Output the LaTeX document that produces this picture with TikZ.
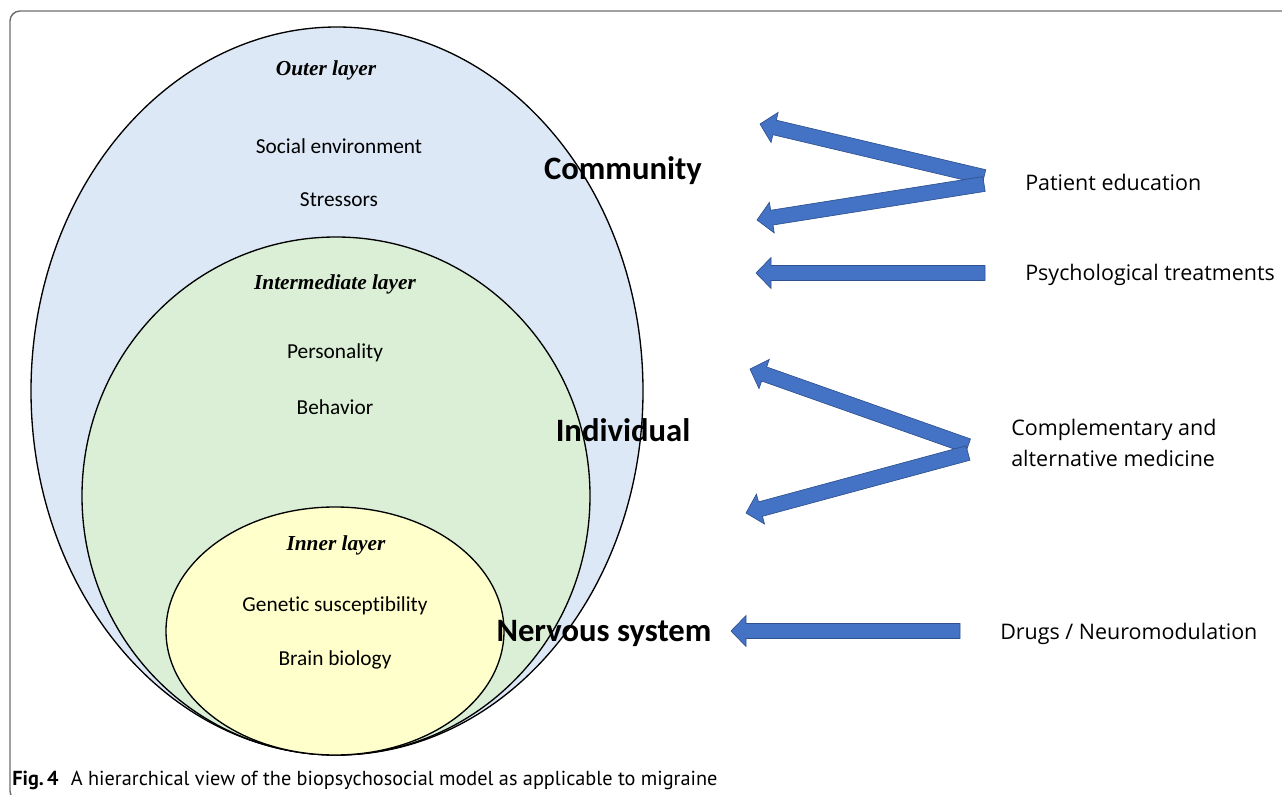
\documentclass[tikz,border=0pt]{standalone}
\usepackage{fontspec}
\setmainfont{Carlito}[Ligatures=NoCommon]
\newfontfamily\timesf{Liberation Serif}
\newfontfamily\osans{Open Sans}
\newfontfamily\capfont{PT Sans}
\usetikzlibrary{calc}
\definecolor{outerfill}{RGB}{220,232,245}
\definecolor{midfill}{RGB}{218,239,214}
\definecolor{innerfill}{RGB}{255,255,204}
\definecolor{arrowfill}{RGB}{68,114,196}
\definecolor{arrowline}{RGB}{47,82,143}
\definecolor{framegray}{RGB}{110,110,110}
\newcommand\blockarrow[2]{%
  \coordinate (hb#2) at ($(#2)!11.25pt!(#1)$);
  \filldraw[blockarr]
    ($(#1)!5.6pt!90:(#2)$) -- ($(hb#2)!5.6pt!90:(#2)$) -- ($(hb#2)!11.6pt!90:(#2)$)
    -- (#2) -- ($(hb#2)!11.6pt!-90:(#2)$) -- ($(hb#2)!5.6pt!-90:(#2)$)
    -- ($(#1)!5.6pt!-90:(#2)$) -- cycle;}
\tikzset{
  layer/.style={draw=black, line width=1pt},
  layertitle/.style={font=\timesf\fontsize{16}{19}\selectfont\bfseries\itshape, inner sep=0pt},
  layertext/.style={font=\fontsize{16}{19}\selectfont, inner sep=0pt},
  level/.style={font=\fontsize{24.5}{29}\selectfont\bfseries, inner sep=0pt},
  action/.style={font=\osans\fontsize{16.1}{23.2}\selectfont, anchor=west, inner sep=0pt, align=left},
  blockarr/.style={fill=arrowfill, draw=arrowline, line width=0.5pt, line join=miter},
}
\begin{document}
\begin{tikzpicture}[x=0.75pt, y=-0.75pt]
\useasboundingbox (0,0) rectangle (1282,795);
% frame
\draw[framegray, line width=1.1pt, rounded corners=7.5pt] (10,11) rectangle (1310,801);
% layers
\path[layer, fill=outerfill] (337,391) ellipse [x radius=306, y radius=364];
\path[layer, fill=midfill] (336,496) ellipse [x radius=254, y radius=259];
\path[layer, fill=innerfill] (335,631) ellipse [x radius=169, y radius=124];
% texts inside
\node[layertitle] (outer) at (326,70) {Outer layer};
\node[layertext] (social) at (339,146) {Social environment};
\node[layertext] (stress) at (339,200) {Stressors};
\node[layertitle] (mid) at (335,284) {Intermediate layer};
\node[layertext] (pers) at (335,353) {Personality};
\node[layertext] (behav) at (335,407) {Behavior};
\node[layertitle] (inner) at (336,545) {Inner layer};
\node[layertext] (genet) at (335,606) {Genetic susceptibility};
\node[layertext] (brain) at (335,660) {Brain biology};
% levels
\node[level] (comm) at (623,171) {Community};
\node[level] (indiv) at (623,430) {Individual};
\node[level] (nerv) at (604,633) {Nervous system};
% actions
\node[action] (pated) at (1025,182) {Patient education};
\node[action] (psych) at (1025,275) {Psychological treatments};
\node[action] (cam) at (1011,443) {Complementary and\\alternative medicine};
\node[action] (drugs) at (1000,634) {Drugs / Neuromodulation};
% arrows
\coordinate (s1a) at (984,177);
\coordinate (t1a) at (760,124);
\coordinate (s1b) at (984,184);
\coordinate (t1b) at (757,220);
\coordinate (s2) at (985,273);
\coordinate (t2) at (756,273);
\coordinate (s3a) at (968,446);
\coordinate (t3a) at (750,369);
\coordinate (s3b) at (968,453);
\coordinate (t3b) at (746,513);
\coordinate (s4) at (960,631);
\coordinate (t4) at (731,631);
\blockarrow{s1a}{t1a}
\blockarrow{s1b}{t1b}
\blockarrow{s2}{t2}
\blockarrow{s3a}{t3a}
\blockarrow{s3b}{t3b}
\blockarrow{s4}{t4}
% caption
\node[anchor=base west, inner sep=0pt, font=\capfont\fontsize{15.2}{18}\selectfont] (cap) at (12,785)
  {\textbf{Fig.\,4}\hspace{0.6em}A hierarchical view of the biopsychosocial model as applicable to migraine};
\end{tikzpicture}
\end{document}
